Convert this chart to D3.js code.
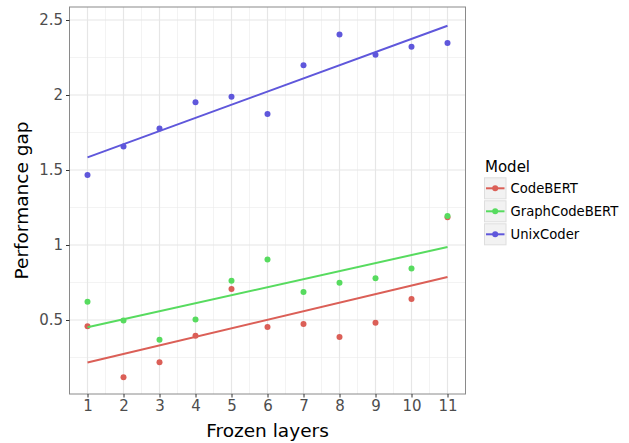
<!DOCTYPE html>
<html>
<head>
<meta charset="utf-8">
<script src="https://cdn.jsdelivr.net/npm/d3@7"></script>
<style>
  html, body { margin: 0; padding: 0; background: #fff; }
  svg { display: block; font-family: "DejaVu Sans", sans-serif; }
</style>
</head>
<body>
<svg id="chart" width="629" height="443"></svg>
<script>
const layers = [1, 2, 3, 4, 5, 6, 7, 8, 9, 10, 11];
const models = ["CodeBERT", "GraphCodeBERT", "UnixCoder"];
const codebert = [0.458, 0.118, 0.218, 0.395, 0.707, 0.453, 0.473, 0.387, 0.482, 0.640, 1.185];
const graphcodebert = [0.622, 0.496, 0.369, 0.504, 0.762, 0.904, 0.687, 0.749, 0.778, 0.844, 1.193];
const unixcoder = [1.467, 1.656, 1.776, 1.951, 1.989, 1.873, 2.198, 2.404, 2.269, 2.322, 2.347];
const colors = ["#db5f57", "#57db5f", "#5f57db"];
const yTicks = [0.5, 1, 1.5, 2, 2.5];
const yTickLabels = ["0.5", "1", "1.5", "2", "2.5"];
const yMinor = [0.25, 0.75, 1.25, 1.75, 2.25];
const xMinor = [1.5, 2.5, 3.5, 4.5, 5.5, 6.5, 7.5, 8.5, 9.5, 10.5];

const seriesValues = [codebert, graphcodebert, unixcoder];
const series = models.map((m, i) => ({
  name: m, color: colors[i],
  points: layers.map((x, j) => ({ x, y: seriesValues[i][j] }))
}));

// linear fit (geom_smooth method = lm)
function lmFit(pts) {
  const mx = d3.mean(pts, d => d.x), my = d3.mean(pts, d => d.y);
  const sxy = d3.sum(pts, d => (d.x - mx) * (d.y - my));
  const sxx = d3.sum(pts, d => (d.x - mx) ** 2);
  const b = sxy / sxx, a = my - b * mx;
  const x0 = d3.min(pts, d => d.x), x1 = d3.max(pts, d => d.x);
  return [{ x: x0, y: a + b * x0 }, { x: x1, y: a + b * x1 }];
}

const svg = d3.select("#chart");
const P = { left: 69.5, right: 465.5, top: 7, bottom: 394 };

const x = d3.scaleLinear().domain([0.5, 11.5]).range([P.left, P.right]);
const y = d3.scaleLinear().domain([0.0067, 2.5867]).range([P.bottom, P.top]);

// panel background
svg.append("rect").attr("x", P.left).attr("y", P.top)
  .attr("width", P.right - P.left).attr("height", P.bottom - P.top)
  .attr("fill", "#fff");

const grid = svg.append("g");
// minor grid
grid.selectAll(".ymin").data(yMinor).join("line")
  .attr("x1", P.left).attr("x2", P.right)
  .attr("y1", d => y(d)).attr("y2", d => y(d))
  .attr("stroke", "#ebebeb").attr("stroke-width", 0.6);
grid.selectAll(".xmin").data(xMinor).join("line")
  .attr("y1", P.top).attr("y2", P.bottom)
  .attr("x1", d => x(d)).attr("x2", d => x(d))
  .attr("stroke", "#ebebeb").attr("stroke-width", 0.6);
// major grid
grid.selectAll(".ymaj").data(yTicks).join("line")
  .attr("x1", P.left).attr("x2", P.right)
  .attr("y1", d => y(d)).attr("y2", d => y(d))
  .attr("stroke", "#e6e6e6").attr("stroke-width", 1.2);
grid.selectAll(".xmaj").data(layers).join("line")
  .attr("y1", P.top).attr("y2", P.bottom)
  .attr("x1", d => x(d)).attr("x2", d => x(d))
  .attr("stroke", "#e6e6e6").attr("stroke-width", 1.2);

// points
series.forEach(s => {
  svg.append("g").selectAll("circle").data(s.points).join("circle")
    .attr("cx", d => x(d.x)).attr("cy", d => y(d.y)).attr("r", 3)
    .attr("fill", s.color);
});
// smooth lines
const line = d3.line().x(d => x(d.x)).y(d => y(d.y));
series.forEach(s => {
  svg.append("path").attr("d", line(lmFit(s.points)))
    .attr("fill", "none").attr("stroke", s.color).attr("stroke-width", 2);
});

// panel border
svg.append("rect").attr("x", P.left).attr("y", P.top)
  .attr("width", P.right - P.left).attr("height", P.bottom - P.top)
  .attr("fill", "none").attr("stroke", "#8a8a8a").attr("stroke-width", 1);

// axes
const xAxis = d3.axisBottom(x).tickValues(layers).tickSize(3.5).tickPadding(3);
const yAxis = d3.axisLeft(y).tickValues(yTicks).tickSize(3.5).tickPadding(3)
  .tickFormat((d, i) => yTickLabels[i]);

const gx = svg.append("g").attr("transform", `translate(0,${P.bottom})`).call(xAxis);
const gy = svg.append("g").attr("transform", `translate(${P.left},0)`).call(yAxis);
[gx, gy].forEach(g => {
  g.select(".domain").remove();
  g.selectAll(".tick line").attr("stroke", "#333").attr("stroke-width", 1);
  g.selectAll(".tick text").attr("fill", "#4d4d4d")
    .style("font-family", "DejaVu Sans").style("font-size", "15px");
});

// axis titles
svg.append("text").attr("x", (P.left + P.right) / 2).attr("y", 436.5)
  .attr("text-anchor", "middle").attr("font-size", 18.5).attr("fill", "#000")
  .text("Frozen layers");
svg.append("text")
  .attr("transform", `translate(28,${(P.top + P.bottom) / 2}) rotate(-90)`)
  .attr("text-anchor", "middle").attr("font-size", 18.5).attr("fill", "#000")
  .text("Performance gap");

// legend
const lg = svg.append("g");
lg.append("text").attr("x", 485).attr("y", 171.5).attr("font-size", 15)
  .attr("fill", "#000").text("Model");
series.forEach((s, i) => {
  const ky = 177.8 + i * 23;
  const g = lg.append("g");
  g.append("rect").attr("x", 484.5).attr("y", ky).attr("width", 21.5).attr("height", 21)
    .attr("fill", "#f2f2f2").attr("stroke", "#dedede").attr("stroke-width", 1);
  g.append("line").attr("x1", 486).attr("x2", 504.5)
    .attr("y1", ky + 10.5).attr("y2", ky + 10.5)
    .attr("stroke", s.color).attr("stroke-width", 2);
  g.append("circle").attr("cx", 495.2).attr("cy", ky + 10.5).attr("r", 3).attr("fill", s.color);
  g.append("text").attr("x", 510.5).attr("y", ky + 10.5).attr("dy", "0.35em")
    .attr("font-size", 13.2).attr("fill", "#000").text(s.name);
});
</script>
</body>
</html>
